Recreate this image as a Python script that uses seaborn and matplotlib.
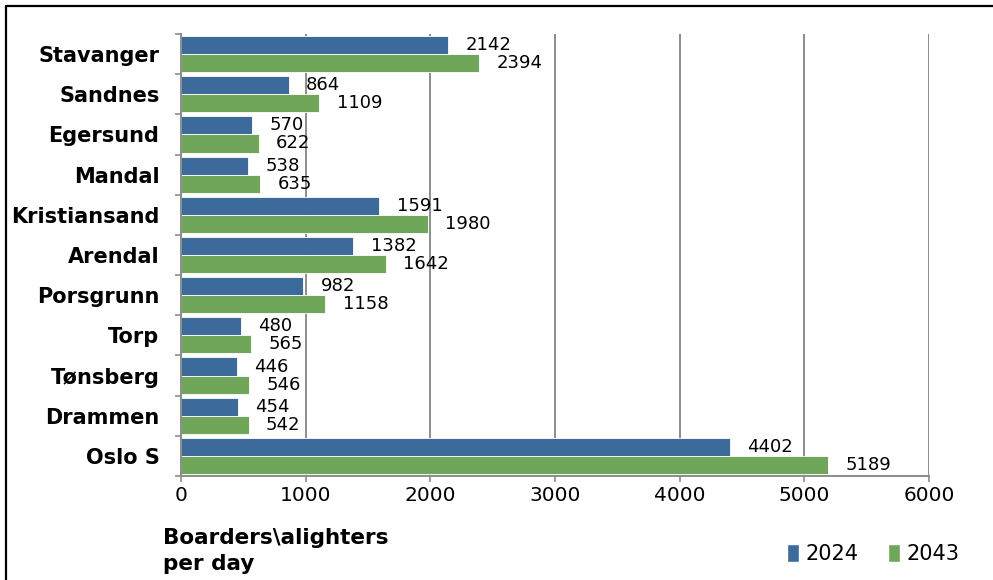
import matplotlib
matplotlib.use("Agg")
import matplotlib.pyplot as plt
from matplotlib.lines import Line2D
from matplotlib.patches import Patch
from matplotlib.ticker import FixedLocator
import seaborn as sns
import pandas as pd

stations = ["Stavanger", "Sandnes", "Egersund", "Mandal", "Kristiansand", "Arendal",
            "Porsgrunn", "Torp", "Tønsberg", "Drammen", "Oslo S"]
riders_2024 = [2142, 864, 570, 538, 1591, 1382, 982, 480, 446, 454, 4402]
riders_2043 = [2394, 1109, 622, 635, 1980, 1642, 1158, 565, 546, 542, 5189]
years = ["2024", "2043"]
x_ticks = [0, 1000, 2000, 3000, 4000, 5000, 6000]

df = pd.DataFrame({
    "Station": stations * 2,
    "Year": [years[0]] * len(stations) + [years[1]] * len(stations),
    "Riders": riders_2024 + riders_2043,
})

palette = {"2024": "#3C6A9B", "2043": "#6FA65A"}
grid_col = "#8C8C8C"

sns.set_theme(style="white")
plt.rcParams["font.family"] = ["DejaVu Sans"]
plt.rcParams["text.color"] = "black"
plt.rcParams["xtick.color"] = "black"
plt.rcParams["ytick.color"] = "black"

fig = plt.figure(figsize=(9.93, 5.8), dpi=100)
fig.patch.set_linewidth(0)
ax = fig.add_axes([181 / 993, 1 - 476 / 580, (929 - 181) / 993, (476 - 34) / 580])

sns.barplot(data=df, y="Station", x="Riders", hue="Year", order=stations,
            hue_order=years, palette=palette, orient="h", width=0.9,
            edgecolor="white", linewidth=0.6, saturation=1, legend=False, ax=ax)

for container in ax.containers:
    ax.bar_label(container, fmt="%d", padding=12.5, fontsize=13, color="black")

ax.set_xlim(0, 6000)
ax.set_ylim(len(stations) - 0.5, -0.5)
ax.set_xticks(x_ticks)
ax.set_xticklabels([str(t) for t in x_ticks], fontsize=14.5)
ax.set_xlabel("")
ax.set_ylabel("")
ax.set_yticks(range(len(stations)))
ax.set_yticklabels(stations, fontsize=15, fontweight="bold")
ax.yaxis.set_minor_locator(FixedLocator([i - 0.5 for i in range(len(stations) + 1)]))
ax.tick_params(axis="y", which="major", length=0, pad=15.5)
ax.tick_params(axis="y", which="minor", length=4, width=1.2, color=grid_col, left=True)
ax.tick_params(axis="x", which="major", length=4, width=1.2, color=grid_col, pad=3,
               bottom=True)

ax.grid(axis="x", color=grid_col, linewidth=1.4)
ax.set_axisbelow(True)
for side in ("top", "right"):
    ax.spines[side].set_visible(False)
for side in ("left", "bottom"):
    ax.spines[side].set_color(grid_col)
    ax.spines[side].set_linewidth(1.4)

fig.text(163 / 993, 1 - 528 / 580, "Boarders\\alighters\nper day", fontsize=15.5,
         fontweight="bold", va="top", ha="left", linespacing=1.4, color="black")

handles = [Patch(facecolor=palette[y], label=y) for y in years]
fig.legend(handles=handles, loc="center", bbox_to_anchor=(873 / 993, 1 - 554 / 580),
           ncol=2, frameon=False, fontsize=15, handlelength=0.6, handleheight=0.95,
           handletextpad=0.3, columnspacing=1.4)

# frame lines along the top and left edges
fig.add_artist(Line2D([6 / 993, 1], [1 - 6 / 580, 1 - 6 / 580], color="black",
                      linewidth=1.6, transform=fig.transFigure))
fig.add_artist(Line2D([6 / 993, 6 / 993], [0, 1 - 6 / 580], color="black",
                      linewidth=1.6, transform=fig.transFigure))

fig.savefig("out.png", dpi=100)
